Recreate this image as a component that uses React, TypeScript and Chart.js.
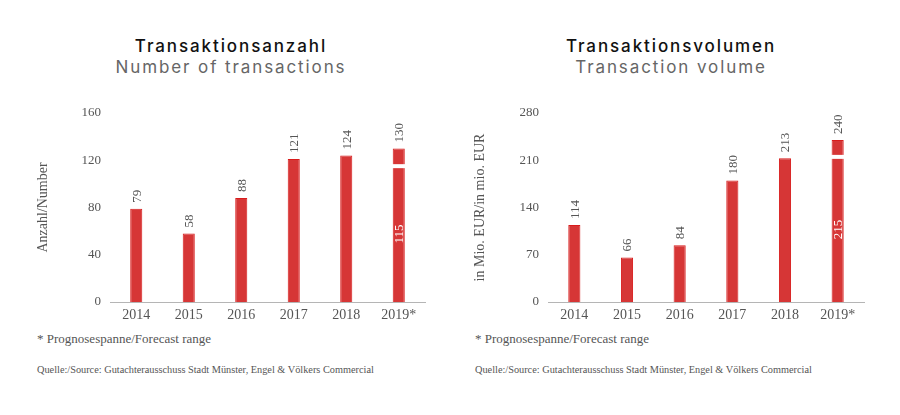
import React, { useEffect, useRef } from "react";
import { Chart, registerables } from "chart.js";

Chart.register(...registerables);

const years = ["2014", "2015", "2016", "2017", "2018", "2019*"];
const countBase = [79, 58, 88, 121, 124, 115];
const countUpper = [0, 0, 0, 0, 0, 15];
const volumeBase = [114, 66, 84, 180, 213, 215];
const volumeUpper = [0, 0, 0, 0, 0, 25];
const countTicks = { max: 160, step: 40 };
const volumeTicks = { max: 280, step: 70 };

const SERIF = "'Liberation Serif', 'DejaVu Serif', serif";
const BAR_FILL = "#d63636";
const BAR_EDGE = "#d81c1c";
const TEXT = "#555555";

function makeChart(
  canvas: HTMLCanvasElement,
  base: number[],
  upper: number[],
  ticks: { max: number; step: number },
  yTitle: string,
  yTitleX: number,
  yWidth: number,
  padRight: number
) {
  const labelPlugin = {
    id: "labels" + yTitle.length,
    afterDatasetsDraw(chart: any) {
      const ctx = chart.ctx;
      const yScale = chart.scales.y;
      const meta0 = chart.getDatasetMeta(0);
      ctx.save();
      ctx.font = `13px ${SERIF}`;
      base.forEach((v, i) => {
        const bar = meta0.data[i] as any;
        const total = v + upper[i];
        const x = bar.x;
        if (upper[i] > 0) {
          const yb = yScale.getPixelForValue(v);
          ctx.fillStyle = "#ffffff";
          ctx.fillRect(x - bar.width / 2 - 1, yb - 2, bar.width + 2, 4);
          const ybottom = yScale.getPixelForValue(0);
          ctx.save();
          ctx.translate(x, (yb + ybottom) / 2);
          ctx.rotate(-Math.PI / 2);
          ctx.fillStyle = "#ffffff";
          ctx.textAlign = "center";
          ctx.textBaseline = "middle";
          ctx.fillText(String(v), 0, 1);
          ctx.restore();
        }
        const yt = yScale.getPixelForValue(total);
        ctx.save();
        ctx.translate(x, yt - 6);
        ctx.rotate(-Math.PI / 2);
        ctx.fillStyle = TEXT;
        ctx.textAlign = "left";
        ctx.textBaseline = "middle";
        ctx.fillText(String(total), 0, 1);
        ctx.restore();
      });
      const area = chart.chartArea;
      ctx.save();
      ctx.translate(yTitleX, (area.top + area.bottom) / 2);
      ctx.rotate(-Math.PI / 2);
      ctx.fillStyle = TEXT;
      ctx.textAlign = "center";
      ctx.textBaseline = "middle";
      ctx.font = `14px ${SERIF}`;
      ctx.fillText(yTitle, 0, 0);
      ctx.restore();
      ctx.restore();
    },
  };

  return new Chart(canvas, {
    type: "bar",
    data: {
      labels: years,
      datasets: [
        {
          data: base,
          backgroundColor: BAR_FILL,
          borderColor: BAR_EDGE,
          borderWidth: 1,
          barPercentage: 0.23,
          categoryPercentage: 1,
        },
        {
          data: upper,
          backgroundColor: BAR_FILL,
          borderColor: BAR_EDGE,
          borderWidth: 1,
          barPercentage: 0.23,
          categoryPercentage: 1,
        },
      ],
    },
    options: {
      animation: false,
      responsive: false,
      maintainAspectRatio: false,
      layout: { padding: { top: 23, right: padRight, bottom: 0, left: 0 } },
      plugins: {
        legend: { display: false },
        tooltip: { enabled: false },
        title: { display: false },
      },
      scales: {
        x: {
          stacked: true,
          grid: { display: false, drawTicks: false },
          border: { display: true, color: "#b5b5b5", width: 1 },
          ticks: {
            color: TEXT,
            font: { family: SERIF, size: 14 },
            padding: 5,
            maxRotation: 0,
          },
          afterFit(scale: any) {
            scale.height = 28;
          },
        },
        y: {
          stacked: true,
          min: 0,
          max: ticks.max,
          grid: { display: false, drawTicks: false },
          border: { display: false },
          ticks: {
            stepSize: ticks.step,
            color: TEXT,
            font: { family: SERIF, size: 13 },
            padding: 9,
          },
          afterFit(scale: any) {
            scale.width = yWidth;
          },
        },
      },
    },
    plugins: [labelPlugin],
  });
}

export default function App() {
  const leftRef = useRef<HTMLCanvasElement>(null);
  const rightRef = useRef<HTMLCanvasElement>(null);

  useEffect(() => {
    document.body.style.margin = "0";
    const c1 = makeChart(leftRef.current!, countBase, countUpper, countTicks, "Anzahl/Number", 43, 110, 25);
    const c2 = makeChart(rightRef.current!, volumeBase, volumeUpper, volumeTicks, "in Mio. EUR/in mio. EUR", 30, 98, 36);
    return () => {
      c1.destroy();
      c2.destroy();
    };
  }, []);

  const titleStyle: React.CSSProperties = {
    position: "absolute",
    width: 450,
    textAlign: "center",
    fontFamily: "Inter, 'Noto Sans', sans-serif",
    fontSize: 17,
    lineHeight: "21px",
    letterSpacing: "1.9px",
  };
  const noteStyle: React.CSSProperties = {
    position: "absolute",
    fontFamily: SERIF,
    color: TEXT,
    whiteSpace: "nowrap",
  };

  return (
    <div style={{ position: "relative", width: 900, height: 415, background: "#fff", overflow: "hidden" }}>
      <div style={{ ...titleStyle, left: 6, top: 36, color: "#111", fontWeight: 500 }}>Transaktionsanzahl</div>
      <div style={{ ...titleStyle, left: 6, top: 57, color: "#666", fontWeight: 400 }}>Number of transactions</div>
      <div style={{ ...titleStyle, left: 446, top: 36, color: "#111", fontWeight: 500 }}>Transaktionsvolumen</div>
      <div style={{ ...titleStyle, left: 446, top: 57, color: "#666", fontWeight: 400 }}>Transaction volume</div>

      <canvas ref={leftRef} width={450} height={240} style={{ position: "absolute", left: 0, top: 90, width: 450, height: 240 }} />
      <canvas ref={rightRef} width={450} height={240} style={{ position: "absolute", left: 450, top: 90, width: 450, height: 240 }} />

      <div style={{ ...noteStyle, left: 37, top: 331, fontSize: 13 }}>* Prognosespanne/Forecast range</div>
      <div style={{ ...noteStyle, left: 37, top: 364, fontSize: 10.3 }}>Quelle:/Source: Gutachterausschuss Stadt Münster, Engel &amp; Völkers Commercial</div>
      <div style={{ ...noteStyle, left: 475, top: 331, fontSize: 13 }}>* Prognosespanne/Forecast range</div>
      <div style={{ ...noteStyle, left: 475, top: 364, fontSize: 10.3 }}>Quelle:/Source: Gutachterausschuss Stadt Münster, Engel &amp; Völkers Commercial</div>
    </div>
  );
}
